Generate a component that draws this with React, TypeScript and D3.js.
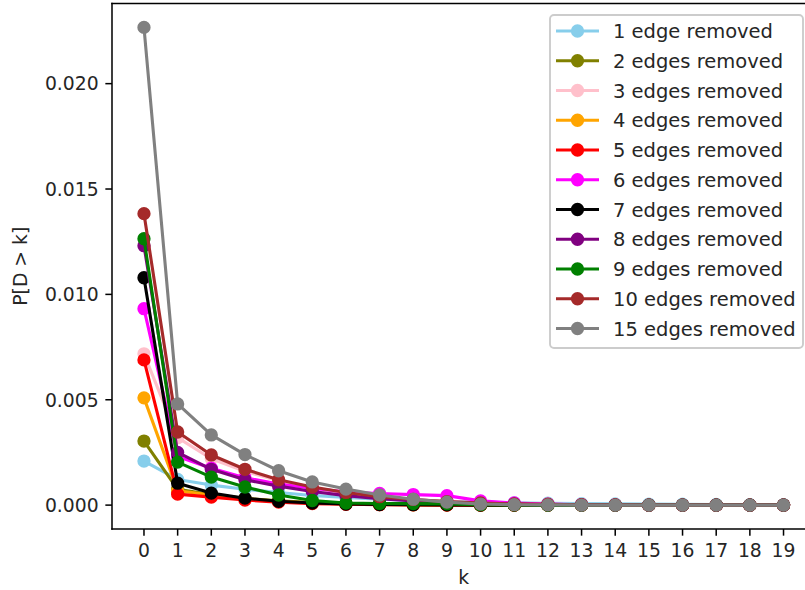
import React from "react";
import * as d3 from "d3";

// k = 0..19
const ks: number[] = d3.range(0, 20);

const seriesLabels: string[] = [
  "1 edge removed",
  "2 edges removed",
  "3 edges removed",
  "4 edges removed",
  "5 edges removed",
  "6 edges removed",
  "7 edges removed",
  "8 edges removed",
  "9 edges removed",
  "10 edges removed",
  "15 edges removed",
];

const seriesColors: string[] = [
  "skyblue",
  "olive",
  "pink",
  "orange",
  "red",
  "magenta",
  "black",
  "purple",
  "green",
  "brown",
  "gray",
];

// P[D > k] for each number of removed edges
const removed1: number[] = [0.00209, 0.00122, 0.00095, 0.00075, 0.0006, 0.00046, 0.00036, 0.00028, 0.00022, 0.00018, 0.00014, 0.00011, 0.00009, 0.00007, 0.00006, 0.00005, 0.00004, 0.00003, 0.00002, 0.00002];
const removed2: number[] = [0.00304, 0.00075, 0.0005, 0.00032, 0.0002, 0.00012, 0.00007, 0.00004, 0.00002, 0.00001, 0, 0, 0, 0, 0, 0, 0, 0, 0, 0];
const removed3: number[] = [0.00718, 0.0032, 0.0022, 0.0016, 0.00115, 0.0008, 0.00055, 0.00038, 0.00026, 0.00017, 0.00011, 0.00007, 0.00004, 0.00003, 0.00002, 0.00001, 0, 0, 0, 0];
const removed4: number[] = [0.00509, 0.00068, 0.00048, 0.0003, 0.00018, 0.0001, 0.00006, 0.00003, 0.00002, 0.00001, 0, 0, 0, 0, 0, 0, 0, 0, 0, 0];
const removed5: number[] = [0.00689, 0.00052, 0.00038, 0.00024, 0.00014, 0.00007, 0.00004, 0.00002, 0.00001, 0, 0, 0, 0, 0, 0, 0, 0, 0, 0, 0];
const removed6: number[] = [0.00932, 0.0023, 0.00175, 0.0013, 0.001, 0.0008, 0.00062, 0.00055, 0.0005, 0.00045, 0.0002, 0.0001, 0.00005, 0.00002, 0.00001, 0, 0, 0, 0, 0];
const removed7: number[] = [0.01079, 0.00104, 0.00057, 0.00033, 0.00018, 0.0001, 0.00005, 0.00003, 0.00002, 0.00001, 0, 0, 0, 0, 0, 0, 0, 0, 0, 0];
const removed8: number[] = [0.01231, 0.0025, 0.0017, 0.0012, 0.0009, 0.00065, 0.00045, 0.0003, 0.0002, 0.00012, 0.00007, 0.00004, 0.00002, 0.00001, 0, 0, 0, 0, 0, 0];
const removed9: number[] = [0.01264, 0.00204, 0.00133, 0.00086, 0.00048, 0.00022, 0.0001, 0.00008, 0.00007, 0.00006, 0.00002, 0.00001, 0, 0, 0, 0, 0, 0, 0, 0];
const removed10: number[] = [0.01383, 0.00347, 0.00238, 0.0017, 0.0012, 0.00086, 0.0006, 0.0004, 0.00027, 0.00017, 0.0001, 0.00006, 0.00004, 0.00002, 0.00001, 0, 0, 0, 0, 0];
const removed15: number[] = [0.02267, 0.0048, 0.00333, 0.0024, 0.00163, 0.0011, 0.00076, 0.00048, 0.00028, 0.00014, 0.00005, 0.00002, 0.00001, 0, 0, 0, 0, 0, 0, 0];

const seriesValues: number[][] = [
  removed1, removed2, removed3, removed4, removed5, removed6,
  removed7, removed8, removed9, removed10, removed15,
];

const yTicks: number[] = [0, 0.005, 0.01, 0.015, 0.02];

const WIDTH = 805;
const HEIGHT = 590;
const FONT = "DejaVu Sans, sans-serif";
const FS = 18.8;
const LEGEND_FS = 19.5;
const PT = 1.9; // pixels per point

// axes box (the right edge runs past the image)
const AX_LEFT = 112;
const AX_RIGHT = 815.5;
const AX_TOP = 3.5;
const AX_BOTTOM = 529;

export default function App() {
  const xMin = d3.min(ks)!;
  const xMax = d3.max(ks)!;
  const xPad = (xMax - xMin) * 0.05;
  const x = d3.scaleLinear().domain([xMin - xPad, xMax + xPad]).range([AX_LEFT, AX_RIGHT]);

  const all = seriesValues.flat();
  const yLo = d3.min(all)!;
  const yHi = d3.max(all)!;
  const yPad = (yHi - yLo) * 0.05;
  const y = d3.scaleLinear().domain([yLo - yPad, yHi + yPad]).range([AX_BOTTOM, AX_TOP]);

  const line = d3
    .line<number>()
    .x((_, i) => x(ks[i]))
    .y((v) => y(v));

  const tickLen = 3.5 * PT;
  const tickPad = 3.5 * PT;
  const lw = 3.1;
  const markerR = 3 * PT;
  const fmt = d3.format(".3f");

  // legend geometry
  const legRight = 803;
  const legLeft = 550;
  const legTop = 15;
  const rowH = 29.75;
  const firstRow = 31;
  const legBottom = 348;

  return (
    <svg
      width={WIDTH}
      height={HEIGHT}
      style={{ position: "absolute", left: 0, top: 0, background: "white" }}
      fontFamily={FONT}
    >
      <defs>
        <clipPath id="plot-area">
          <rect x={AX_LEFT} y={AX_TOP} width={AX_RIGHT - AX_LEFT} height={AX_BOTTOM - AX_TOP} />
        </clipPath>
      </defs>
      <rect x={0} y={0} width={WIDTH} height={HEIGHT} fill="white" />

      {/* series */}
      <g clipPath="url(#plot-area)">
        {seriesValues.map((vals, si) => (
          <g key={seriesLabels[si]}>
            <path
              d={line(vals) || ""}
              fill="none"
              stroke={seriesColors[si]}
              strokeWidth={lw}
              strokeLinejoin="round"
              strokeLinecap="butt"
            />
            {vals.map((v, i) => (
              <circle
                key={i}
                cx={x(ks[i])}
                cy={y(v)}
                r={markerR}
                fill={seriesColors[si]}
                stroke={seriesColors[si]}
                strokeWidth={PT}
              />
            ))}
          </g>
        ))}
      </g>

      {/* spines */}
      <g stroke="black" strokeWidth={0.8 * PT} fill="none" strokeLinecap="square">
        <line x1={AX_LEFT} y1={AX_TOP} x2={AX_LEFT} y2={AX_BOTTOM} />
        <line x1={AX_LEFT} y1={AX_BOTTOM} x2={AX_RIGHT} y2={AX_BOTTOM} />
        <line x1={AX_LEFT} y1={AX_TOP} x2={AX_RIGHT} y2={AX_TOP} />
        <line x1={AX_RIGHT} y1={AX_TOP} x2={AX_RIGHT} y2={AX_BOTTOM} />
      </g>

      {/* x axis */}
      <g>
        {ks.map((k) => (
          <g key={k} transform={`translate(${x(k)},${AX_BOTTOM})`}>
            <line y1={0} y2={tickLen} stroke="black" strokeWidth={0.8 * PT} />
            <text
              y={tickLen + tickPad + FS * 0.76}
              textAnchor="middle"
              fontSize={FS}
              fill="#262626"
            >
              {k}
            </text>
          </g>
        ))}
        <text
          x={(AX_LEFT + AX_RIGHT) / 2}
          y={584}
          textAnchor="middle"
          fontSize={FS}
          fill="#262626"
        >
          k
        </text>
      </g>

      {/* y axis */}
      <g>
        {yTicks.map((t) => (
          <g key={t} transform={`translate(${AX_LEFT},${y(t)})`}>
            <line x1={0} x2={-tickLen} stroke="black" strokeWidth={0.8 * PT} />
            <text
              x={-tickLen - tickPad}
              dy="0.36em"
              textAnchor="end"
              fontSize={FS}
              fill="#262626"
            >
              {fmt(t)}
            </text>
          </g>
        ))}
        <text
          transform={`translate(27,${(AX_TOP + AX_BOTTOM) / 2}) rotate(-90)`}
          textAnchor="middle"
          fontSize={FS}
          fill="#262626"
        >
          P[D &gt; k]
        </text>
      </g>

      {/* legend */}
      <g>
        <rect
          x={legLeft}
          y={legTop}
          width={legRight - legLeft}
          height={legBottom - legTop}
          rx={4}
          ry={4}
          fill="white"
          fillOpacity={0.8}
          stroke="#cccccc"
          strokeWidth={PT}
        />
        {seriesLabels.map((label, i) => {
          const cy = firstRow + i * rowH;
          return (
            <g key={label}>
              <line x1={556} x2={599} y1={cy} y2={cy} stroke={seriesColors[i]} strokeWidth={lw} />
              <circle cx={577.5} cy={cy} r={markerR} fill={seriesColors[i]} stroke={seriesColors[i]} strokeWidth={PT} />
              <text x={613} y={cy} dy="0.36em" fontSize={LEGEND_FS} fill="#262626">
                {label}
              </text>
            </g>
          );
        })}
      </g>
    </svg>
  );
}
